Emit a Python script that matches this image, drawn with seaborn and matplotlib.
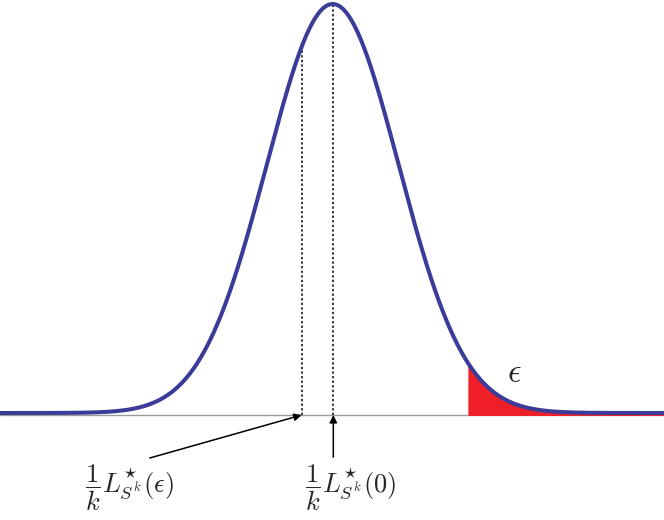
import matplotlib
matplotlib.use('Agg')
import matplotlib.pyplot as plt
import seaborn as sns
import pandas as pd
import numpy as np

# bell curve (in units of its own spread)
mu = 0.0
sigma = 1.0
x_range = [-5.04, 5.02]
eps_cut = 2.04          # start of red tail
marks = [-0.47, 0.01]   # dotted lines: L*(eps), L*(0)
labels = [r'$\dfrac{1}{k}L^{\star}_{S^k}(\epsilon)$', r'$\dfrac{1}{k}L^{\star}_{S^k}(0)$']
label_x = [-3.08, 0.27]
arrow_tail = [(-2.77, -0.110), (0.01, -0.108)]

sns.set_style('white')
plt.rcParams['mathtext.fontset'] = 'cm'

x = np.linspace(x_range[0], x_range[1], 800)
y = np.exp(-0.5 * ((x - mu) / sigma) ** 2)
df = pd.DataFrame({'x': x, 'y': y})

fig = plt.figure(figsize=(6.64, 5.2), dpi=100)
ax = fig.add_axes([0, 0, 1, 1])
base = -0.006

ax.axhline(base, color='#9a9a9a', lw=1.0, zorder=1)

tail = df[df['x'] >= eps_cut]
ax.fill_between(tail['x'], tail['y'], base, color='#ee1f26', lw=0, zorder=2)

sns.lineplot(data=df, x='x', y='y', color='#3b3b9a', lw=2.9, ax=ax, zorder=4)

for m in marks:
    top = np.exp(-0.5 * ((m - mu) / sigma) ** 2)
    ax.plot([m, m], [base, top], color='black', lw=1.1, ls=(0, (1.5, 1.5)), zorder=3)

for m, t in zip(marks, arrow_tail):
    ax.annotate('', xy=(m, base + 0.001), xytext=t,
                arrowprops=dict(arrowstyle='-|>', color='black', lw=1.1,
                                mutation_scale=11, shrinkA=0, shrinkB=0))

for lx, lab in zip(label_x, labels):
    ax.text(lx, -0.182, lab, fontsize=19, ha='center', va='center')

ax.text(2.75, 0.1, r'$\epsilon$', fontsize=24, ha='center', va='center')

ax.set_xlim(x_range)
ax.set_ylim(-0.2616, 1.0098)
ax.axis('off')
fig.savefig('out.png', dpi=100)
